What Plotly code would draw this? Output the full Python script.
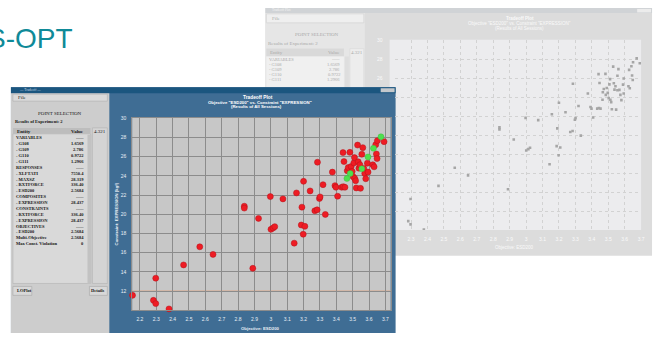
import plotly.graph_objects as go

# results of all sessions: objective ESD200 vs constraint EXPRESSION
esd200 = [2.155, 2.283, 2.297, 2.297, 2.378, 2.467, 2.566, 2.647, 2.838, 2.838,
          2.890, 2.925, 2.997, 3.001, 3.014, 3.024, 3.074, 3.143, 3.157, 3.186,
          3.190, 3.198, 3.208, 3.200, 3.240, 3.269, 3.283, 3.297, 3.301, 3.285,
          3.319, 3.333, 3.376, 3.392, 3.398, 3.408, 3.433, 3.443, 3.453, 3.441,
          3.447, 3.467, 3.473, 3.483, 3.491, 3.497, 3.503, 3.507, 3.511, 3.513,
          3.518, 3.522, 3.530, 3.534, 3.538, 3.544, 3.548, 3.556, 3.562, 3.568,
          3.574, 3.580, 3.590, 3.594, 3.623, 3.631, 3.641, 3.645, 3.649, 3.651, 3.692]
expression = [11.55, 11.03, 10.69, 13.34, 10.14, 14.72, 16.61, 15.82, 20.84, 20.64,
              14.37, 19.57, 21.84, 18.43, 18.57, 18.71, 21.60, 16.99, 22.22, 18.88,
              20.74, 17.92, 18.74, 23.43, 22.43, 20.36, 20.46, 21.64, 21.81, 25.42,
              23.08, 19.98, 24.39, 22.98, 22.81, 21.88, 22.81, 22.87, 22.81, 26.42,
              25.49, 24.53, 24.87, 26.45, 24.97, 24.46, 23.91, 25.35, 25.90, 23.73,
              23.49, 22.74, 27.21, 25.46, 24.80, 25.15, 22.70, 26.25, 26.94, 24.77,
              24.25, 23.70, 25.32, 24.39, 25.15, 24.94, 27.25, 26.28, 25.80, 27.66, 27.56]

# highlighted (green) points
best_esd200 = [3.673, 3.627, 3.594, 3.556, 3.485, 3.465]
best_expression = [28.07, 26.87, 25.97, 24.73, 24.25, 23.73]

constraint_limit = 12

x_ticks = [2.2, 2.3, 2.4, 2.5, 2.6, 2.7, 2.8, 2.9, 3.0, 3.1, 3.2, 3.3, 3.4, 3.5, 3.6, 3.7]
x_tick_labels = ["2.2", "2.3", "2.4", "2.5", "2.6", "2.7", "2.8", "2.9", "3",
                 "3.1", "3.2", "3.3", "3.4", "3.5", "3.6", "3.7"]
y_ticks = [12, 14, 16, 18, 20, 22, 24, 26, 28, 30]
y_tick_labels = ["12", "14", "16", "18", "20", "22", "24", "26", "28", "30"]

# point selection table
entities = ["VARIABLES", "- G108", "- G109", "- G110", "- G111",
            "RESPONSES", "- XLFTATI", "- MAXSZ", "- RXTFORCE", "- ESD200",
            "COMPOSITES", "- EXPRESSION",
            "CONSTRAINTS", "- RXTFORCE", "- EXPRESSION",
            "OBJECTIVES", "- ESD200", "Multi-Objective", "Max Const. Violation"]
entity_values = ["-----", "1.6569", "2.786", "0.9722", "1.2966",
                 "-----", "7550.4", "28.319", "336.40", "2.5684",
                 "-----", "28.437",
                 "-----", "336.40", "28.437",
                 "-----", "2.5684", "2.5684", "0"]

W, H = 663, 338


def px(x):
    return x / W


def py(y):
    return 1 - y / H


def box(x0, y0, x1, y1, fill, edge=None):
    return dict(type="rect", xref="paper", yref="paper",
                x0=px(x0), x1=px(x1), y0=py(y1), y1=py(y0),
                fillcolor=fill, layer="below",
                line=dict(color=edge or fill, width=0.6 if edge else 0))


def text(x, y, s, size=5, color="#151515", anchor="left", family="Liberation Serif", angle=0):
    return dict(x=px(x), y=py(y), xref="paper", yref="paper", text=s, showarrow=False,
                xanchor=anchor, yanchor="middle", textangle=angle,
                font=dict(size=size, color=color, family=family))


shapes = []
annotations = []

#### background window (faded)
shapes += [
    box(267, 5, 656, 255, "#dcdcdc"),
    box(267, 5, 656, 10, "#d0d3d6"),
    box(641, 6, 655, 9.5, "#ececec"),
    box(267, 10, 367, 255, "#e6e6e6"),
    box(268, 11, 366, 20, "#efefef", "#d2d2d2"),
    box(268, 46, 346, 54, "#d9d9d9"),
    box(268, 54, 346, 255, "#f0f0f0"),
    box(347, 54, 351, 255, "#dedede"),
    box(352, 46, 366, 255, "#ededed", "#d6d6d6"),
    box(392, 37, 645, 229, "#ececee"),
]
bg_txt = "#a9a9a9"
annotations += [
    text(272, 7.5, "Tradeoff Plot", size=3.5, color="#f4f4f4"),
    text(272, 15.7, "File", color=bg_txt),
    text(318, 31.7, "POINT SELECTION", color=bg_txt, anchor="center"),
    text(268, 41, "Results of Experiment: 2", color=bg_txt),
    text(270, 50, "Entity", color=bg_txt),
    text(344, 50, "Value", color=bg_txt, anchor="right"),
    text(359, 50, "4.321", color=bg_txt, anchor="center"),
]
for i in range(5):
    annotations.append(text(269, 57.3 + i * 5, entities[i], size=4.5, color=bg_txt))
    annotations.append(text(344, 57.3 + i * 5, entity_values[i], size=4.5, color=bg_txt, anchor="right"))

lbl = "Liberation Sans"
annotations += [
    text(523, 15.7, "<b>Tradeoff Plot</b>", size=4.5, color="#fafafa", anchor="center", family=lbl),
    text(523, 20.7, 'Objective "ESD200" vs. Constraint "EXPRESSION"', size=4.5, color="#fafafa",
         anchor="center", family=lbl),
    text(523, 25.7, "(Results of All Sessions)", size=4.5, color="#fafafa", anchor="center", family=lbl),
    text(518, 247, "Objective: ESD200", size=4.5, color="#fafafa", anchor="center", family=lbl),
]
for v, t in zip(y_ticks[-3:], y_tick_labels[-3:]):
    annotations.append(dict(x=px(382), y=v, xref="paper", yref="y2", text=t, showarrow=False,
                            xanchor="center", yanchor="middle",
                            font=dict(size=5, color="#fafafa", family=lbl)))

#### foreground window
shapes += [
    box(11, 85, 398, 333, "#3f6d94"),
    box(11, 85, 398, 91, "#1b567f"),
    box(383, 86, 397, 90, "#c4c8cc"),
    box(11, 91, 110, 333, "#cdcdcd"),
    box(13, 92, 108, 99, "#dadada", "#b0b0b0"),
    box(13, 126, 91, 132, "#bdbdbd"),
    box(13, 132, 91, 283, "#d9d9d9", "#b4b4b4"),
    box(88, 133, 92, 283, "#c2c2c2"),
    box(93, 126, 108, 283, "#d4d4d4", "#b4b4b4"),
    box(13, 286, 32, 295, "#d8d8d8", "#a8a8a8"),
    box(90, 286, 108, 295, "#d8d8d8", "#a8a8a8"),
    box(133, 116, 393, 310, "#c7c7c7"),
]
annotations += [
    text(17, 88, "\u2014 Tradeoff \u2014", size=3.5, color="#c8d6e4"),
    text(16, 95.5, "File"),
    text(60, 111.7, "POINT SELECTION", anchor="center"),
    text(13, 120, "<b>Results of Experiment: 2</b>", size=4.5),
    text(15, 129.3, "<b>Entity</b>"),
    text(87, 129.3, "<b>Value</b>", anchor="right"),
    text(100.5, 129.3, "4.321", anchor="center"),
    text(15, 290.5, "<b>LOPlot</b>", size=4.5),
    text(107, 290.5, "<b>Details</b>", size=4.5, anchor="right"),
]
for i, (name, val) in enumerate(zip(entities, entity_values)):
    yy = 136 + i * 5.94
    annotations.append(text(14, yy, "<b>" + name + "</b>", size=4.5))
    annotations.append(text(87, yy, "<b>" + val + "</b>", size=4.5, anchor="right"))

annotations += [
    text(260, 95.7, "<b>Tradeoff Plot</b>", size=4.8, color="#ffffff", anchor="center", family=lbl),
    text(262, 100.2, '<b>Objective "ESD200" vs. Constraint "EXPRESSION"</b>', size=4.3,
         color="#ffffff", anchor="center", family=lbl),
    text(258, 104.7, "<b>(Results of All Sessions)</b>", size=4.3, color="#ffffff", anchor="center",
         family=lbl),
    text(262, 328, "<b>Objective: ESD200</b>", size=4.3, color="#e8eef4", anchor="center", family=lbl),
    text(117, 213, "<b>Constraint: EXPRESSION (kgf)</b>", size=4.3, color="#e8eef4", anchor="center",
         family=lbl, angle=-90),
    # logo text, partly cut at the left edge
    text(75, 36, "S-OPT", size=28, color="#0f8a98", anchor="right", family="Liberation Sans"),
]

# constraint limit line
shapes.append(dict(type="line", xref="x domain", yref="y", x0=0, x1=1,
                   y0=constraint_limit, y1=constraint_limit, layer="below",
                   line=dict(color="#dba88a", width=1.2)))

# background scatter (same data, faded)
trace0 = go.Scatter(
    x=esd200 + best_esd200, y=expression + best_expression,
    xaxis="x2", yaxis="y2", mode="markers",
    marker=dict(symbol="square", size=2.6, color="#a6a6a6"),
    showlegend=False, hoverinfo="skip")

trace1 = go.Scatter(
    x=esd200, y=expression, mode="markers", cliponaxis=False,
    marker=dict(size=6, color="#ee1c24", line=dict(color="#b3121a", width=0.5)),
    showlegend=False)

trace2 = go.Scatter(
    x=best_esd200, y=best_expression, mode="markers", cliponaxis=False,
    marker=dict(size=6, color="#4ee04e", line=dict(color="#38b838", width=0.4)),
    showlegend=False)

fig = go.Figure(data=[trace0, trace1, trace2])

fg_axis = dict(showgrid=True, gridcolor="#8c8c8c", gridwidth=0.6, zeroline=False,
               showline=True, linecolor="#8c8c8c", linewidth=0.6, mirror=True,
               tickfont=dict(size=5, color="#e8eef4", family=lbl), ticks="")
bg_axis = dict(showgrid=True, gridcolor="#d2d2d2", griddash="dot", gridwidth=0.6, zeroline=False,
               tickfont=dict(size=5, color="#fafafa", family=lbl), ticks="")

fig.update_layout(
    width=W, height=H, autosize=False,
    margin=dict(l=0, r=0, t=0, b=0),
    paper_bgcolor="#ffffff", plot_bgcolor="rgba(0,0,0,0)",
    xaxis=dict(domain=[px(133), px(393)], range=[2.1532, 3.732], anchor="y",
               tickvals=x_ticks, ticktext=x_tick_labels, ticklabelstandoff=4, **fg_axis),
    yaxis=dict(domain=[py(310), py(116)], range=[10, 30.03], anchor="x",
               tickvals=y_ticks, ticktext=y_tick_labels, ticklabelstandoff=4, **fg_axis),
    xaxis2=dict(domain=[px(397.5), px(645)], range=[2.203, 3.70], anchor="y2",
                tickvals=x_ticks, ticktext=x_tick_labels, ticklabelstandoff=5, **bg_axis),
    yaxis2=dict(domain=[py(229), py(37)], range=[10.1, 30.03], anchor="x2",
                tickvals=y_ticks, showticklabels=False, **bg_axis),
    shapes=shapes,
    annotations=annotations,
)

# the page is photographed at 663x338, so drop the default body margin
fig.write_html("out.html", config={"displayModeBar": False},
               post_script="document.body.style.margin='0';document.body.style.overflow='hidden';")
